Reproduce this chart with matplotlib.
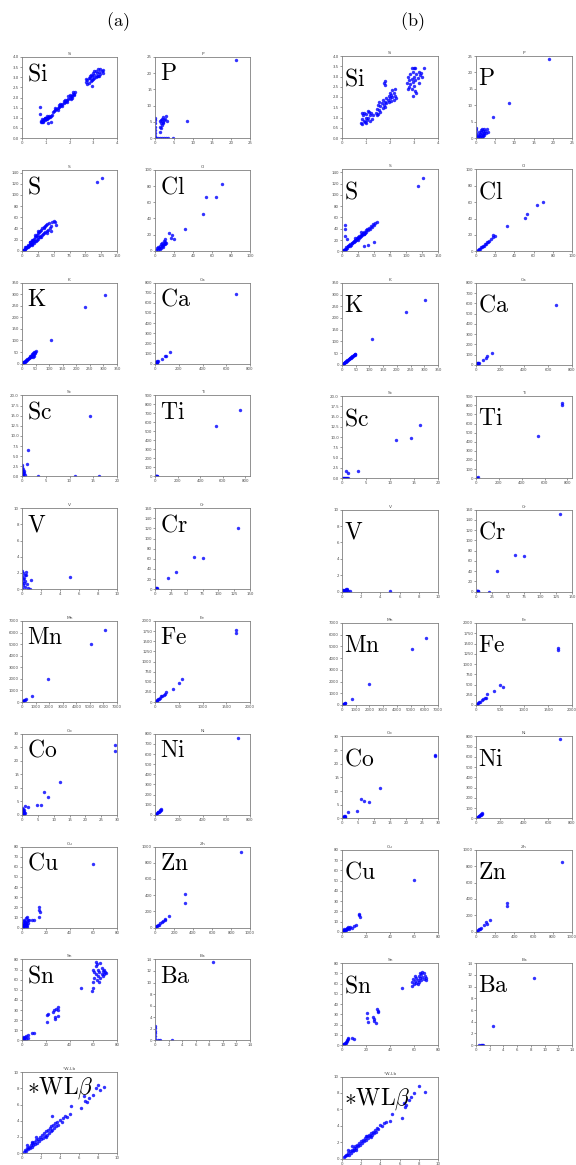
import matplotlib
matplotlib.use("Agg")
import matplotlib.pyplot as plt

plt.rcParams['mathtext.fontset'] = 'cm'

# element names, big labels, axis ranges and ticks
elements = ["Si", "P", "S", "Cl", "K", "Ca", "Sc", "Ti", "V", "Cr",
            "Mn", "Fe", "Co", "Ni", "Cu", "Zn", "Sn", "Ba", "*W-Lb"]
big_labels = [r"$\mathrm{" + e + "}$" for e in elements[:-1]] + [r"$\mathrm{*WL}\beta$"]
x_limits = [(0, 4), (0, 25), (0, 150), (0, 100), (0, 350), (0, 800), (0, 20), (0, 840), (0, 10), (0, 150),
            (0, 7000), (0, 2000), (0, 30), (0, 800), (0, 80), (0, 1000), (0, 80), (0, 14), (0, 10)]
y_limits = [(0, 4), (0, 25), (0, 145), (0, 100), (0, 350), (0, 800), (0, 20), (0, 850), (0, 10), (0, 150),
            (0, 7000), (0, 2000), (0, 30), (0, 800), (0, 80), (0, 1000), (0, 80), (0, 14), (0, 10)]
x_steps = [1, 5, 25, 20, 50, 200, 5, 200, 2, 25, 1000, 500, 5, 200, 20, 200, 20, 2, 2]
y_steps = [0.5, 5, 20, 20, 50, 100, 2.5, 100, 2, 20, 1000, 250, 5, 100, 10, 200, 10, 2, 2]

# ---- panel (a) data ----
a_si = [(0.80, 0.78), (0.82, 0.85), (0.85, 0.80), (0.88, 0.90), (0.90, 0.82), (0.92, 0.95), (0.95, 0.88),
        (0.97, 0.98), (1.00, 0.92), (1.02, 1.00), (1.05, 0.95), (1.08, 1.03), (1.10, 0.98), (1.12, 1.05),
        (1.15, 1.08), (1.18, 1.02), (0.85, 0.95), (0.95, 1.00), (1.05, 1.08), (0.90, 0.78), (1.20, 1.10),
        (1.25, 1.15), (1.30, 1.28), (1.35, 1.35), (1.40, 1.38), (1.45, 1.45), (1.50, 1.48), (1.55, 1.55),
        (1.60, 1.58), (1.65, 1.65), (1.70, 1.68), (1.75, 1.75), (1.80, 1.78), (1.85, 1.85), (1.90, 1.88),
        (1.95, 1.95), (2.00, 1.98), (2.05, 2.05), (2.10, 2.08), (2.15, 2.15), (2.20, 2.18), (2.22, 2.25),
        (1.40, 1.48), (1.50, 1.40), (1.60, 1.68), (1.70, 1.60), (1.80, 1.88), (1.90, 1.80), (2.00, 2.10),
        (2.10, 1.98), (2.20, 2.10), (2.15, 2.25), (1.95, 2.05), (1.75, 1.85), (1.55, 1.65), (2.05, 1.95),
        (2.70, 2.75), (2.75, 2.85), (2.80, 2.70), (2.85, 2.95), (2.90, 2.80), (2.95, 3.05), (3.00, 2.90),
        (3.05, 3.10), (3.10, 3.00), (3.15, 3.20), (3.20, 3.05), (3.25, 3.25), (3.30, 3.15), (3.35, 3.30),
        (3.40, 3.35), (2.80, 2.95), (2.90, 3.10), (3.00, 3.20), (3.10, 3.30), (3.20, 3.40), (2.75, 2.65),
        (2.95, 2.85), (3.05, 2.95), (3.15, 3.05), (3.25, 3.05), (3.30, 3.40), (2.85, 3.05), (3.05, 3.30),
        (2.70, 2.90), (3.40, 3.20), (0.75, 1.52), (0.75, 1.20), (1.10, 0.75), (1.20, 0.80), (2.95, 2.55)]
a_p = [(0.0, 0.5), (0.0, 1.5), (0.0, 2.5), (0.0, 3.5), (0.0, 4.5), (0.0, 5.5), (0.0, 6.3), (0.3, 0.0),
       (0.8, 0.0), (1.3, 0.0), (1.8, 0.0), (2.3, 0.0), (2.8, 0.0), (3.3, 0.0), (4.7, 0.0), (1.2, 2.0),
       (1.4, 3.5), (1.5, 4.5), (1.6, 3.0), (1.7, 5.5), (1.8, 4.0), (1.9, 6.0), (2.0, 5.0), (2.1, 6.5),
       (2.2, 4.5), (2.4, 5.5), (2.6, 6.0), (2.8, 6.8), (1.3, 5.2), (3.2, 5.2), (8.5, 5.2), (21.3, 24.0)]
a_s = [(1, 1), (2, 2), (3, 2), (4, 4), (5, 3), (5, 6), (6, 5), (7, 7), (8, 6), (9, 9), (10, 7), (10, 11),
       (11, 9), (12, 12), (13, 10), (13, 15), (14, 12), (15, 17), (16, 13), (16, 19), (17, 15), (18, 20),
       (19, 14), (19, 22), (20, 17), (21, 24), (22, 18), (22, 27), (23, 20), (24, 29), (25, 22), (25, 31),
       (26, 24), (27, 33), (28, 25), (28, 36), (29, 27), (30, 38), (31, 28), (32, 40), (33, 30), (34, 42),
       (35, 32), (36, 44), (37, 34), (38, 46), (39, 36), (40, 48), (41, 38), (42, 50), (44, 40), (45, 35),
       (46, 45), (48, 52), (50, 54), (52, 52), (53, 47), (20, 28), (30, 24), (35, 40), (40, 32), (15, 10),
       (12, 16), (25, 35), (118, 123), (127, 130)]
a_cl = [(1, 1), (2, 3), (3, 1), (3, 5), (4, 3), (5, 6), (5, 2), (6, 4), (6, 8), (7, 6), (7, 10), (8, 7),
        (8, 5), (9, 9), (9, 12), (10, 8), (10, 11), (11, 14), (12, 10), (15, 22), (17, 16), (18, 19),
        (20, 15), (32, 27), (51, 46), (54, 66), (64, 67), (70, 82)]
a_k = [(2, 2), (4, 5), (6, 5), (8, 9), (10, 8), (12, 13), (14, 12), (16, 17), (18, 15), (20, 22), (22, 19),
       (24, 26), (26, 23), (28, 31), (30, 27), (32, 35), (34, 30), (36, 40), (38, 34), (40, 44), (42, 38),
       (44, 48), (46, 42), (48, 52), (48, 45), (50, 55), (45, 32), (40, 30), (35, 38), (108, 102),
       (232, 243), (304, 295)]
a_ca = [(2, 2), (5, 8), (8, 5), (10, 12), (12, 20), (15, 10), (18, 25), (20, 15), (25, 22), (55, 50),
        (80, 75), (90, 75), (130, 115), (680, 690)]
a_sc = [(0.0, 0.2), (0.0, 0.8), (0.0, 1.5), (0.0, 2.2), (0.0, 2.9), (0.2, 0.5), (0.2, 1.2), (0.3, 1.8),
        (0.3, 0.1), (0.4, 0.9), (0.5, 1.4), (0.6, 0.3), (1.0, 3.0), (1.3, 6.4), (3.3, 0.0), (11.2, 0.0),
        (16.3, 0.0), (14.3, 14.8)]
a_ti = [(2, 1), (5, 3), (8, 6), (12, 4), (15, 8), (20, 5), (540, 560), (750, 740)]
a_v = [(0.0, 0.2), (0.0, 0.9), (0.0, 1.6), (0.0, 2.3), (0.1, 0.5), (0.1, 1.2), (0.15, 2.0), (0.2, 0.8),
       (0.25, 1.4), (0.3, 0.3), (0.3, 1.8), (0.35, 1.0), (0.4, 2.1), (0.45, 1.7), (0.5, 0.6), (0.6, 0.1),
       (0.8, 0.05), (0.9, 1.1), (5.0, 1.5)]
a_cr = [(0.5, 0.5), (1, 2), (1.5, 1), (2, 2.5), (2.5, 0.5), (3, 1.5), (21, 22), (33, 33), (61, 64),
        (75, 61), (131, 120)]
a_mn = [(20, 20), (60, 80), (100, 60), (150, 160), (200, 200), (280, 260), (700, 550), (1950, 1950),
        (5100, 5050), (6100, 6200)]
a_fe = [(10, 10), (20, 25), (35, 30), (50, 50), (60, 70), (80, 70), (100, 110), (120, 140), (150, 160),
        (180, 170), (200, 200), (240, 240), (380, 330), (510, 480), (560, 570), (1700, 1700), (1700, 1770)]
a_co = [(0.0, 0.3), (0.0, 1.0), (0.0, 1.8), (0.0, 2.5), (0.2, 0.6), (0.3, 1.4), (0.4, 2.0), (0.5, 0.2),
        (0.6, 1.0), (0.7, 1.7), (0.8, 0.5), (1.0, 3.3), (1.8, 2.8), (4.7, 3.6), (5.9, 3.8), (7.0, 8.5),
        (8.3, 6.7), (12.0, 12.0), (29.3, 26.0), (29.3, 23.5)]
a_ni = [(3, 3), (8, 10), (12, 8), (18, 20), (22, 25), (28, 30), (32, 28), (38, 40), (42, 45), (48, 50),
        (52, 55), (700, 760)]
a_cu = [(0.5, 0.5), (0.5, 3), (1, 1.5), (1, 5), (1.5, 2.5), (1.5, 7), (2, 1), (2, 4), (2, 8), (2.5, 3),
        (2.5, 6), (3, 2), (3, 5), (3, 9), (3.5, 4), (4, 1), (4, 7), (4, 10), (4.5, 3), (5, 5), (5, 8),
        (6, 8), (8, 8), (10, 8), (14, 10), (14, 20), (14, 17), (15, 15), (60, 63)]
a_zn = [(5, 5), (10, 15), (20, 15), (30, 35), (40, 30), (50, 55), (75, 75), (80, 85), (100, 100),
        (110, 110), (150, 140), (320, 420), (320, 300), (900, 930)]
a_sn = [(0.5, 0.5), (0.5, 2), (1, 3), (1.5, 1), (2, 2.5), (2.5, 3.5), (3, 1.5), (3, 4), (5, 5), (5, 2),
        (8, 7), (10, 7), (21, 18), (21, 25), (22, 26), (26, 28), (27, 30), (28, 23), (28, 21), (30, 33),
        (30, 30), (30, 24), (29, 31), (50, 52), (59, 49), (60, 52), (60, 58), (61, 62), (61, 68), (62, 66),
        (62, 73), (63, 60), (63, 75), (64, 64), (64, 70), (65, 58), (65, 68), (66, 76), (66, 62), (67, 72),
        (67, 66), (68, 69), (68, 64), (69, 70), (69, 66), (70, 68), (71, 67), (60, 70), (62, 77)]
a_ba = [(0.0, 0.2), (0.0, 0.7), (0.0, 1.2), (0.0, 1.7), (0.0, 2.2), (0.0, 2.5), (0.5, 0.0), (0.8, 0.0),
        (2.5, 0.0), (8.5, 13.5)]
a_wl = [(0.2, 0.2), (0.3, 0.4), (0.4, 0.3), (0.5, 0.6), (0.5, 1.0), (0.6, 0.5), (0.7, 0.8), (0.8, 0.6),
        (0.9, 1.0), (1.0, 0.8), (1.1, 1.2), (1.2, 1.0), (1.3, 1.4), (1.4, 1.1), (1.5, 1.6), (1.6, 1.3),
        (1.7, 1.8), (1.8, 1.5), (1.9, 2.0), (2.0, 1.7), (2.1, 2.3), (2.2, 1.9), (2.3, 2.5), (2.4, 2.1),
        (2.5, 2.7), (2.6, 2.3), (2.7, 2.9), (2.8, 2.5), (2.9, 3.1), (3.0, 2.7), (3.1, 3.3), (3.2, 2.9),
        (3.2, 4.6), (3.3, 3.5), (3.4, 3.1), (3.5, 3.7), (3.6, 3.3), (3.7, 3.9), (3.8, 3.5), (4.0, 4.1),
        (4.2, 3.9), (4.3, 4.4), (4.5, 4.6), (4.7, 4.5), (5.0, 4.8), (5.2, 5.8), (6.2, 5.6), (6.5, 7.0),
        (6.6, 6.5), (6.8, 6.3), (7.0, 6.8), (7.5, 7.2), (7.8, 8.0), (8.0, 8.4), (8.2, 7.8), (8.6, 8.2),
        (1.5, 2.0), (2.5, 2.0), (1.0, 1.4)]

# ---- panel (b) data ----
b_si = [(0.80, 0.75), (0.82, 0.95), (0.85, 0.70), (0.88, 1.10), (0.90, 0.85), (0.92, 1.20), (0.95, 0.80),
        (0.98, 1.00), (1.00, 0.75), (1.02, 1.15), (1.05, 0.90), (1.08, 1.30), (1.10, 1.00), (1.15, 0.85),
        (1.18, 1.10), (1.22, 1.20), (1.25, 0.95), (1.30, 1.10), (0.85, 1.20), (1.12, 1.25),
        (1.40, 1.20), (1.45, 1.40), (1.50, 1.15), (1.50, 1.60), (1.55, 1.35), (1.60, 1.55), (1.60, 1.25),
        (1.65, 1.70), (1.70, 1.45), (1.70, 1.85), (1.75, 1.60), (1.80, 1.75), (1.80, 1.50), (1.85, 1.95),
        (1.85, 1.70), (1.90, 1.85), (1.95, 2.05), (1.95, 1.75), (2.00, 1.95), (2.00, 2.20), (2.05, 1.80),
        (2.05, 2.10), (2.10, 2.00), (2.10, 2.35), (2.15, 1.85), (2.15, 2.20), (2.20, 2.05), (2.20, 2.40),
        (2.25, 1.95), (1.80, 2.80), (1.75, 2.70), (1.80, 2.60), (1.45, 1.10), (1.55, 1.75),
        (2.70, 2.70), (2.75, 3.00), (2.80, 2.50), (2.80, 2.85), (2.85, 3.10), (2.85, 2.65), (2.90, 2.90),
        (2.90, 2.40), (2.95, 3.20), (2.95, 2.75), (3.00, 3.00), (3.00, 2.55), (3.05, 3.40), (3.05, 2.85),
        (3.10, 3.10), (3.10, 2.20), (3.15, 2.95), (3.20, 3.20), (3.20, 2.70), (3.25, 3.05), (3.30, 3.15),
        (3.35, 3.00), (3.40, 3.40), (2.95, 2.05), (3.00, 3.40), (2.90, 3.40), (3.05, 2.30), (2.75, 2.40)]
b_p = [(0.0, 0.5), (0.0, 1.5), (0.0, 2.5), (0.0, 3.0), (0.5, 0.2), (0.6, 1.0), (0.8, 0.5), (0.9, 1.8),
       (1.0, 0.3), (1.1, 1.2), (1.2, 2.5), (1.3, 0.8), (1.4, 1.8), (1.5, 0.4), (1.6, 2.8), (1.7, 1.2),
       (1.8, 2.2), (1.9, 0.6), (2.0, 1.5), (2.1, 2.6), (2.2, 1.0), (2.4, 2.0), (2.6, 1.4), (2.8, 2.8),
       (3.2, 1.8), (4.5, 6.5), (8.5, 10.7), (19.0, 24.0)]
b_s = [(1, 1), (2, 2), (3, 3), (4, 3), (5, 5), (6, 5), (7, 7), (8, 6), (9, 9), (10, 9), (11, 11), (12, 10),
       (13, 13), (14, 12), (15, 15), (16, 14), (17, 17), (18, 16), (19, 19), (20, 18), (21, 21), (22, 20),
       (23, 23), (24, 22), (25, 25), (26, 24), (27, 27), (28, 26), (29, 29), (30, 28), (31, 31), (32, 29),
       (33, 33), (34, 31), (35, 35), (36, 33), (37, 37), (38, 35), (39, 39), (40, 37), (42, 41), (44, 40),
       (45, 45), (47, 43), (48, 48), (50, 46), (52, 50), (54, 52), (20, 24), (25, 20), (30, 34), (35, 30),
       (5, 47), (5, 40), (5, 27), (8, 22), (50, 17), (35, 10), (40, 11), (118, 116), (127, 130)]
b_cl = [(1, 1), (2, 2), (3, 3), (4, 3), (5, 5), (6, 5), (7, 7), (8, 7), (9, 9), (10, 9), (11, 11),
        (12, 11), (14, 13), (16, 15), (18, 17), (18, 20), (20, 19), (32, 31), (51, 41), (53, 46),
        (64, 56), (70, 60)]
b_k = [(2, 2), (4, 4), (6, 6), (8, 7), (10, 10), (12, 11), (14, 14), (16, 15), (18, 18), (20, 19), (22, 21),
       (24, 24), (26, 25), (28, 27), (30, 29), (32, 31), (34, 33), (36, 35), (38, 36), (40, 39), (42, 40),
       (44, 43), (46, 44), (48, 47), (48, 42), (108, 108), (232, 225), (304, 278)]
b_ca = [(2, 2), (5, 6), (8, 5), (10, 10), (12, 15), (15, 12), (18, 20), (20, 15), (25, 22), (55, 50),
        (80, 70), (90, 85), (130, 120), (670, 580)]
b_sc = [(0.0, 0.0), (0.2, 0.0), (0.4, 0.0), (0.6, 0.0), (0.8, 0.0), (1.0, 0.0), (1.3, 0.0), (0.9, 1.8),
        (1.3, 1.3), (3.3, 1.8), (11.2, 9.3), (14.4, 9.9), (16.2, 13.0)]
b_ti = [(2, 1), (5, 3), (8, 6), (12, 4), (15, 8), (540, 460), (750, 800), (750, 820)]
b_v = [(0.0, 0.05), (0.0, 0.15), (0.1, 0.1), (0.15, 0.2), (0.2, 0.05), (0.3, 0.15), (0.35, 0.25),
       (0.4, 0.1), (0.45, 0.3), (0.5, 0.35), (0.55, 0.2), (0.6, 0.1), (0.8, 0.05), (5.0, 0.05)]
b_cr = [(0.5, 0.5), (1, 1.5), (1.5, 0.5), (2, 2), (2.5, 1), (3, 1.5), (20, 0), (33, 41), (61, 71),
        (75, 69), (131, 151)]
b_mn = [(20, 20), (60, 60), (100, 80), (150, 120), (200, 160), (250, 200), (700, 520), (1950, 1800),
        (5100, 4750), (6100, 5750)]
b_fe = [(10, 10), (20, 20), (30, 30), (50, 50), (70, 65), (90, 80), (120, 120), (150, 150), (180, 160),
        (200, 170), (230, 260), (380, 340), (510, 490), (560, 450), (1700, 1400), (1700, 1350)]
b_co = [(0.0, 0.1), (0.1, 0.4), (0.2, 0.2), (0.3, 0.6), (0.4, 0.3), (0.5, 0.8), (0.6, 0.1), (0.7, 0.5),
        (0.8, 0.7), (0.9, 0.3), (1.0, 0.6), (1.8, 2.2), (4.7, 2.7), (5.9, 7.0), (7.0, 6.4), (8.3, 5.9),
        (12.0, 11.3), (29.2, 22.8), (29.2, 23.3)]
b_ni = [(3, 3), (8, 8), (12, 10), (18, 18), (22, 22), (28, 26), (32, 32), (38, 36), (42, 40), (48, 46),
        (52, 50), (700, 770)]
b_cu = [(0.5, 0.5), (1, 1.5), (1.5, 1), (2, 2.5), (2.5, 1.5), (3, 3), (3.5, 2), (4, 4), (4.5, 2.5),
        (5, 5), (5.5, 3), (6, 4), (7, 5), (8, 4), (10, 6), (12, 7), (14, 17), (14, 16), (15, 14), (60, 51)]
b_zn = [(5, 5), (10, 10), (20, 18), (30, 30), (40, 35), (50, 50), (80, 80), (100, 120), (110, 100),
        (150, 140), (320, 350), (320, 310), (900, 850)]
b_sn = [(0.5, 0.5), (1, 1), (1.5, 1.5), (2, 1), (2.5, 2.5), (3, 3), (3.5, 2.5), (4, 4), (4.5, 5),
        (5, 6.5), (5, 7), (8, 7), (10, 6.5), (21, 31), (21, 27), (22, 23), (26, 28), (27, 26), (27, 24),
        (28, 22), (29, 35), (30, 33), (30, 32), (50, 56), (58, 58), (58, 62), (59, 65), (60, 60), (61, 63),
        (62, 66), (62, 61), (63, 64), (64, 68), (64, 62), (65, 66), (65, 70), (66, 69), (66, 64), (67, 71),
        (67, 67), (68, 65), (68, 70), (69, 68), (70, 66), (70, 64), (61, 68), (63, 60)]
b_ba = [(0.5, 0.0), (0.7, 0.0), (0.9, 0.0), (1.0, 0.0), (2.5, 3.2), (8.5, 11.5)]
b_wl = [(0.2, 0.2), (0.3, 0.3), (0.4, 0.5), (0.5, 0.4), (0.6, 0.7), (0.7, 0.5), (0.8, 0.9), (0.9, 0.7),
        (1.0, 1.1), (1.1, 0.9), (1.2, 1.3), (1.3, 1.1), (1.4, 1.5), (1.5, 1.3), (1.6, 1.7), (1.7, 1.5),
        (1.8, 1.9), (1.9, 1.7), (2.0, 2.1), (2.1, 1.9), (2.2, 2.3), (2.3, 2.1), (2.4, 2.5), (2.5, 2.3),
        (2.6, 2.7), (2.7, 2.5), (2.8, 2.9), (2.9, 2.7), (3.0, 3.1), (3.1, 2.9), (3.2, 3.3), (3.3, 3.1),
        (3.4, 3.5), (3.5, 3.3), (3.6, 3.7), (3.8, 3.6), (4.0, 4.1), (4.2, 4.0), (4.4, 4.4), (4.6, 4.5),
        (5.0, 4.6), (5.2, 5.5), (6.2, 5.0), (6.5, 6.8), (6.7, 6.5), (6.6, 6.3), (7.0, 7.2), (7.2, 7.5),
        (7.5, 8.0), (8.0, 8.8), (8.6, 8.1), (1.0, 1.5), (1.5, 1.0), (2.5, 2.8), (3.0, 2.6), (0.6, 1.0)]

panel_a = [a_si, a_p, a_s, a_cl, a_k, a_ca, a_sc, a_ti, a_v, a_cr,
           a_mn, a_fe, a_co, a_ni, a_cu, a_zn, a_sn, a_ba, a_wl]
panel_b = [b_si, b_p, b_s, b_cl, b_k, b_ca, b_sc, b_ti, b_v, b_cr,
           b_mn, b_fe, b_co, b_ni, b_cu, b_zn, b_sn, b_ba, b_wl]

W, H = 576, 1165
fig = plt.figure(figsize=(W / 100, H / 100), dpi=100)


def make_ticks(lo, hi, step):
    n = int(round((hi - lo) / step + 1e-9))
    return [lo + i * step for i in range(n + 1)]


def draw_panel(data, lefts, top0, pitch, w, h, label_xy):
    for i, pts in enumerate(data):
        row, col = divmod(i, 2)
        left = lefts[col]
        top = top0 + row * pitch
        ax = fig.add_axes([left / W, 1 - (top + h) / H, w / W, h / H])
        xs = [p[0] for p in pts]
        ys = [p[1] for p in pts]
        ax.scatter(xs, ys, s=6, color='blue', alpha=0.8, linewidths=0)
        ax.set_xlim(x_limits[i])
        ax.set_ylim(y_limits[i])
        ax.set_xticks(make_ticks(0, x_limits[i][1], x_steps[i]))
        ax.set_yticks(make_ticks(0, y_limits[i][1], y_steps[i]))
        if y_steps[i] in (0.5, 2.5):
            ax.set_yticklabels([f"{v:.1f}" for v in make_ticks(0, y_limits[i][1], y_steps[i])])
        ax.tick_params(labelsize=2.8, length=1.2, width=0.4, pad=1, colors='0.3')
        for sp in ax.spines.values():
            sp.set_color('0.5')
            sp.set_linewidth(0.6)
        ax.set_title(elements[i], fontsize=3.2, pad=1.5, color='0.3')
        ax.text(label_xy[0], label_xy[1], big_labels[i], transform=ax.transAxes,
                fontsize=17, va='center', ha='left')


draw_panel(panel_a, [22, 155], 57, 112.8, 95, 81, (0.05, 0.80))
draw_panel(panel_b, [342, 476], 56, 113.4, 96, 82, (0.02, 0.73))

fig.text(118 / W, 1 - 22 / H, r"$\mathrm{(a)}$", fontsize=13, ha='center', va='center')
fig.text(412 / W, 1 - 22 / H, r"$\mathrm{(b)}$", fontsize=13, ha='center', va='center')

fig.savefig("out.png", dpi=100)
